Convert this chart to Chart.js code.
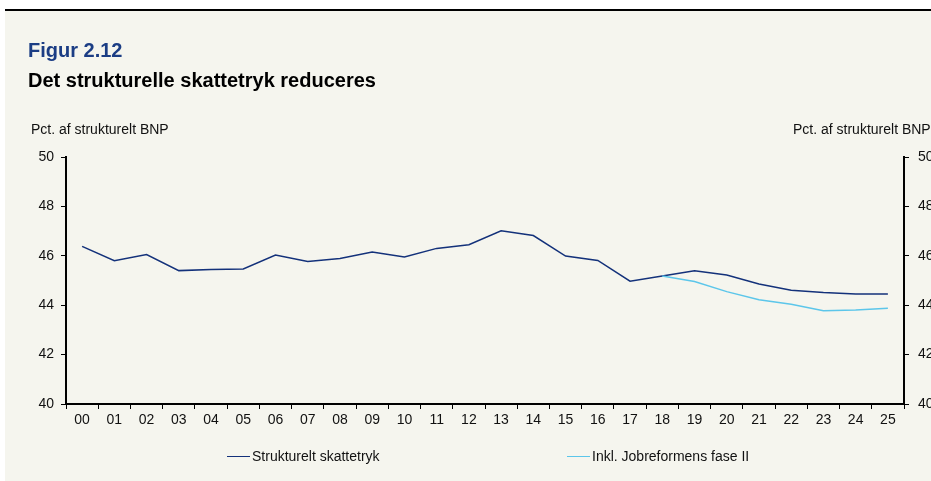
<!DOCTYPE html>
<html lang="da">
<head>
<meta charset="utf-8">
<script src="https://cdn.jsdelivr.net/npm/chart.js@4"></script>
<style>
  body { margin: 0; background: #ffffff; font-family: "Liberation Sans", Arial, sans-serif; }
  #wrap { position: relative; width: 931px; height: 481px; overflow: hidden; }
  #panel { position: absolute; left: 5px; top: 9px; right: 0; bottom: 0; background: #f5f5ee; border-top: 2px solid #000; }
  canvas { position: absolute; left: 0; top: 0; }
  .txt { position: absolute; white-space: nowrap; color: #000; }
  #fig { left: 28px; top: 39px; font-size: 20px; font-weight: bold; color: #1b3d84; }
  #sub { left: 28px; top: 69px; font-size: 20px; font-weight: bold; }
  .unit { top: 121px; font-size: 14px; color: #111; }
  .leg { top: 448px; font-size: 14px; color: #111; }
  .leg i { display: inline-block; width: 23px; height: 0; vertical-align: middle; margin-right: 2px; margin-top: -2px; }
</style>
</head>
<body>
<div id="wrap">
  <div id="panel"></div>
  <canvas id="chart" width="931" height="481"></canvas>
  <div class="txt" id="fig">Figur 2.12</div>
  <div class="txt" id="sub">Det strukturelle skattetryk reduceres</div>
  <div class="txt unit" style="left:31px">Pct. af strukturelt BNP</div>
  <div class="txt unit" style="left:793px">Pct. af strukturelt BNP</div>
  <div class="txt leg" style="left:227px"><i style="border-top:1.5px solid #13317a"></i>Strukturelt skattetryk</div>
  <div class="txt leg" style="left:567px"><i style="border-top:1.5px solid #5cc6ea"></i>Inkl. Jobreformens fase II</div>
</div>
<script>
// data
const years = ["00", "01", "02", "03", "04", "05", "06", "07", "08", "09", "10", "11", "12",
  "13", "14", "15", "16", "17", "18", "19", "20", "21", "22", "23", "24", "25"];
const strukturelt = [46.38, 45.8, 46.05, 45.4, 45.45, 45.47, 46.03, 45.77, 45.89, 46.15, 45.95, 46.3, 46.45,
  47.01, 46.82, 45.99, 45.81, 44.97, 45.18, 45.39, 45.22, 44.86, 44.61, 44.51, 44.45, 44.45];
const jobreform = [null, null, null, null, null, null, null, null, null, null, null, null, null,
  null, null, null, null, null, 45.18, 44.96, 44.55, 44.22, 44.04, 43.78, 43.81, 43.88];
const yTicks = [40, 42, 44, 46, 48, 50];

const tickFont = { family: "'Liberation Sans', Arial, sans-serif", size: 14 };

function yAxis(pos, w, pad) {
  return {
    position: pos,
    min: 40,
    max: 50,
    afterBuildTicks: function (scale) {
      scale.ticks = yTicks.map(v => ({ value: v }));
    },
    afterFit: function (scale) { scale.width = w; },
    border: { display: true, color: "#000", width: 2 },
    grid: { drawOnChartArea: false, color: "#000", tickLength: 5, lineWidth: 1 },
    ticks: { color: "#111", font: tickFont, padding: pad }
  };
}

new Chart(document.getElementById("chart"), {
  type: "line",
  data: {
    labels: years,
    datasets: [
      {
        label: "Inkl. Jobreformens fase II",
        data: jobreform,
        borderColor: "#5cc6ea",
        borderWidth: 1.5,
        pointRadius: 0,
        tension: 0,
        yAxisID: "y"
      },
      {
        label: "Strukturelt skattetryk",
        data: strukturelt,
        borderColor: "#13317a",
        borderWidth: 1.5,
        pointRadius: 0,
        tension: 0,
        yAxisID: "y"
      }
    ]
  },
  options: {
    responsive: false,
    animation: false,
    layout: { padding: { left: 0, right: 0, top: 157, bottom: 47 } },
    plugins: { legend: { display: false }, tooltip: { enabled: false } },
    scales: {
      x: {
        offset: true,
        afterFit: function (scale) { scale.height = 30; },
        border: { display: true, color: "#000", width: 2 },
        grid: { offset: true, drawOnChartArea: false, color: "#000", tickLength: 5 },
        ticks: { color: "#111", font: tickFont, maxRotation: 0, autoSkip: false, padding: 3 }
      },
      y: yAxis("left", 66, 7),
      y2: yAxis("right", 27, 9)
    }
  }
});
</script>
</body>
</html>
